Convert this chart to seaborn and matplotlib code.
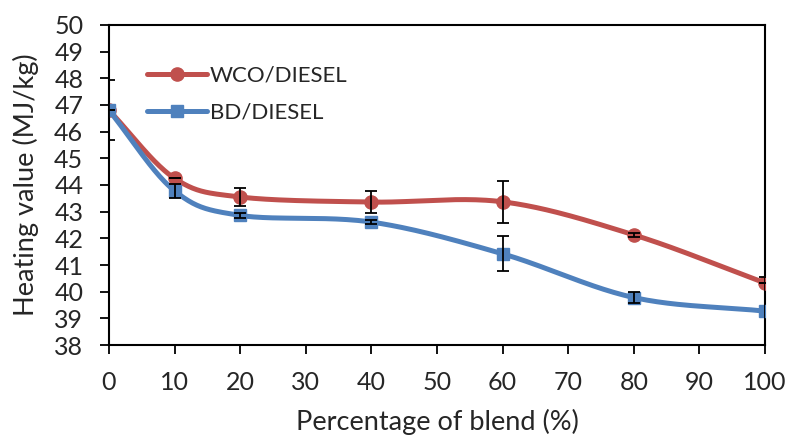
import numpy as np
import pandas as pd
import matplotlib
matplotlib.use("Agg")
import matplotlib.pyplot as plt
import seaborn as sns
from matplotlib.lines import Line2D

blend = [0, 10, 20, 40, 60, 80, 100]
wco = [46.8, 44.25, 43.55, 43.36, 43.37, 42.13, 40.33]
wco_err = [0.0, 0.0, 0.33, 0.4, 0.78, 0.08, 0.0]
bd = [46.8, 43.78, 42.86, 42.61, 41.42, 39.78, 39.27]
bd_err = [1.12, 0.25, 0.08, 0.08, 0.65, 0.22, 1.27]
x_ticks = [0, 10, 20, 30, 40, 50, 60, 70, 80, 90, 100]
y_ticks = list(range(38, 51))

sns.set_theme(style="white")
plt.rcParams['font.family'] = ['Lato', 'DejaVu Sans']


def smooth(xs, ys, n=40):
    # Catmull-Rom style smoothing similar to spreadsheet "smoothed line"
    xs = np.asarray(xs, float)
    ys = np.asarray(ys, float)
    px = np.concatenate([[2 * xs[0] - xs[1]], xs, [2 * xs[-1] - xs[-2]]])
    py = np.concatenate([[2 * ys[0] - ys[1]], ys, [2 * ys[-1] - ys[-2]]])
    ox, oy = [], []
    t = np.linspace(0, 1, n)
    for i in range(1, len(px) - 2):
        p0x, p1x, p2x, p3x = px[i - 1:i + 3]
        p0y, p1y, p2y, p3y = py[i - 1:i + 3]
        t2, t3 = t * t, t * t * t
        cx = 0.5 * ((2 * p1x) + (-p0x + p2x) * t + (2 * p0x - 5 * p1x + 4 * p2x - p3x) * t2 + (-p0x + 3 * p1x - 3 * p2x + p3x) * t3)
        cy = 0.5 * ((2 * p1y) + (-p0y + p2y) * t + (2 * p0y - 5 * p1y + 4 * p2y - p3y) * t2 + (-p0y + 3 * p1y - 3 * p2y + p3y) * t3)
        ox.extend(cx)
        oy.extend(cy)
    return np.array(ox), np.array(oy)


red = "#C0504D"
blue = "#4F81BD"

fig = plt.figure(figsize=(7.88, 4.36), dpi=100)
ax = fig.add_axes([0.1383, 0.2087, 0.8325, 0.734])

for ys, col, mk in [(wco, red, "o"), (bd, blue, "s")]:
    sx, sy = smooth(blend, ys)
    df = pd.DataFrame({"x": sx, "y": sy})
    sns.lineplot(data=df, x="x", y="y", ax=ax, color=col, lw=3.6, sort=False, estimator=None, zorder=3)
    ax.plot(blend, ys, linestyle="none", marker=mk, color=col, ms=9.5 if mk == "o" else 9, mec=col, zorder=4)

for ys, err in [(wco, wco_err), (bd, bd_err)]:
    ax.errorbar(blend, ys, yerr=err, fmt="none", ecolor="black", elinewidth=1.3, capsize=4.5, capthick=1.3, zorder=5)

handles = [Line2D([], [], color=red, lw=3.6, marker="o", ms=9.5),
           Line2D([], [], color=blue, lw=3.6, marker="s", ms=9)]
ax.legend(handles, ["WCO/DIESEL", "BD/DIESEL"], loc="upper left", bbox_to_anchor=(0.028, 0.935),
          frameon=False, fontsize=16, handlelength=2.7, handletextpad=0.1, labelspacing=0.75)

ax.set_xlim(0, 100)
ax.set_ylim(38, 50)
ax.set_xticks(x_ticks)
ax.set_yticks(y_ticks)
ax.tick_params(axis="both", direction="out", length=6.5, width=1.3, color="black", labelsize=18, left=True, bottom=True)
ax.tick_params(axis="x", pad=12)
ax.tick_params(axis="y", pad=12)
for s in ax.spines.values():
    s.set_color("black")
    s.set_linewidth(1.5)
ax.set_xlabel("Percentage of blend (%)", fontsize=19.5, labelpad=11)
ax.set_ylabel("Heating value (MJ/kg)", fontsize=19.5, labelpad=11)

fig.savefig("out.png", dpi=100)
